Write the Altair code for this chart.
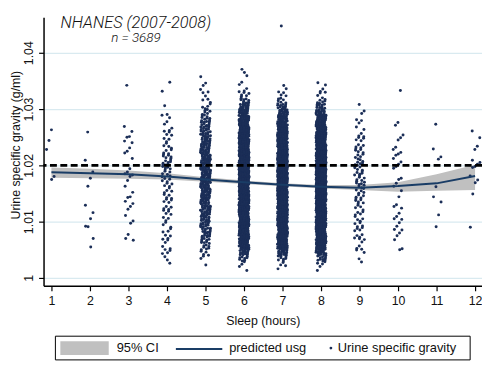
import altair as alt
import pandas as pd

# ---------------- data ----------------
hours = [1, 2, 3, 4, 5, 6, 7, 8, 9, 10, 11, 12]
pred_usg = [1.01877, 1.0186, 1.0184, 1.0180, 1.0175, 1.0170, 1.01655, 1.0162, 1.0160, 1.01632, 1.0168, 1.0181]
ci_lo = [1.0178, 1.0177, 1.0176, 1.0175, 1.0171, 1.0167, 1.0163, 1.0159, 1.0156, 1.0153, 1.0155, 1.0156]
ci_hi = [1.0196, 1.0194, 1.0191, 1.0186, 1.0179, 1.0173, 1.0168, 1.0165, 1.0165, 1.0170, 1.0184, 1.0201]

# sparse columns: individual readings
usg_h1 = [1.0263, 1.0244, 1.0228, 1.0180, 1.0175]
usg_h2 = [1.0259, 1.0209, 1.0188, 1.0177, 1.0163, 1.0129, 1.0116, 1.0105, 1.0091, 1.0092, 1.0070, 1.0055]
usg_h3 = [1.0342, 1.0269, 1.0260, 1.0251, 1.0250, 1.0243, 1.0240, 1.0231, 1.0225, 1.0222, 1.0212,
          1.0194, 1.0188, 1.0185, 1.0183, 1.0180, 1.0173, 1.0163, 1.0152, 1.0144, 1.0143, 1.0136,
          1.0132, 1.0127, 1.0122, 1.0111, 1.0101, 1.0097, 1.0077, 1.0070, 1.0067]
usg_h10 = [1.0333, 1.0276, 1.0271, 1.0254, 1.0249, 1.0245, 1.0232, 1.0228, 1.0223, 1.0220, 1.0218,
           1.0212, 1.0206, 1.0202, 1.0198, 1.0195, 1.0177, 1.0175, 1.0168, 1.0163, 1.0155, 1.0144,
           1.0130, 1.0127, 1.0124, 1.0115, 1.0109, 1.0105, 1.0104, 1.0098, 1.0092, 1.0086, 1.0085,
           1.0080, 1.0075, 1.0068, 1.0052, 1.0050]
usg_h11 = [1.0273, 1.0229, 1.0215, 1.0211, 1.0162, 1.0144, 1.0135, 1.0112, 1.0091]
usg_h12 = [1.0261, 1.0249, 1.0234, 1.0228, 1.0209, 1.0205, 1.0202, 1.0198, 1.0196, 1.0181, 1.0174,
           1.0169, 1.0149, 1.0090]

# dense columns: estimated number of points per 0.001 band, starting at 1.000
counts_h4 = [0, 0, 1, 2, 3, 3, 3, 3, 3, 3, 3, 4, 4, 4, 4, 4, 4, 5, 5, 6, 8, 6, 4, 4, 3, 3, 3, 2, 2, 1, 1, 0, 0, 1, 1]
counts_h5 = [0, 0, 1, 2, 4, 7, 9, 10, 11, 12, 13, 14, 15, 15, 16, 16, 17, 17, 18, 18, 18, 17, 16, 15, 14, 13,
             12, 10, 8, 6, 4, 3, 2, 2, 2, 1]
counts_h6 = [0, 1, 3, 8, 15, 22, 26, 28, 30, 32, 34, 36, 38, 40, 42, 43, 44, 45, 46, 46, 46, 45, 44, 42, 40,
             37, 34, 30, 25, 20, 14, 9, 5, 3, 2, 1, 1, 1]
counts_h7 = [0, 1, 3, 8, 16, 24, 29, 32, 34, 36, 38, 40, 42, 44, 46, 47, 48, 48, 48, 47, 46, 44, 42, 40, 37,
             34, 30, 26, 21, 16, 11, 6, 3, 2, 1, 0, 0, 0, 0, 0, 0, 0, 0, 0, 1]
counts_h8 = [0, 1, 4, 10, 18, 26, 31, 34, 36, 38, 40, 42, 44, 46, 48, 49, 50, 50, 50, 49, 48, 46, 44, 41, 38,
             35, 31, 27, 22, 16, 11, 6, 3, 2, 2]
counts_h9 = [0, 0, 1, 1, 2, 3, 3, 4, 4, 4, 4, 4, 4, 5, 5, 5, 6, 6, 6, 6, 6, 5, 5, 4, 4, 3, 2, 2, 1, 2, 1]

sparse = {1: usg_h1, 2: usg_h2, 3: usg_h3, 10: usg_h10, 11: usg_h11, 12: usg_h12}
dense = {4: counts_h4, 5: counts_h5, 6: counts_h6, 7: counts_h7, 8: counts_h8, 9: counts_h9}

# ---------------- build point table (deterministic strip jitter, R2 sequence) ----------------
A1, A2 = 0.7548776662, 0.5698402910
JW = 0.26
rows = []
n = 0
for h, vals in sparse.items():
    for v in vals:
        rows.append({"sleep": h, "usg": v, "jit": ((0.5 + n * A1) % 1.0 - 0.5) * JW})
        n += 1
for h, cnts in dense.items():
    for i, c in enumerate(cnts):
        for k in range(c):
            fy = (0.5 + n * A2) % 1.0
            rows.append({"sleep": h, "usg": 1 + (i + fy) * 0.001,
                         "jit": ((0.5 + n * A1) % 1.0 - 0.5) * JW})
            n += 1

pts = pd.DataFrame(rows)
fit = pd.DataFrame({"sleep": hours, "pred": pred_usg, "lo": ci_lo, "hi": ci_hi})
ref = pd.DataFrame({"ref": [1.02]})
one = pd.DataFrame({"a": [0]})

NAVY_PT = "#1b2e57"
NAVY_LN = "#1a3d66"
BAND = "#c0c0c0"

xsc = alt.Scale(domain=[0.795, 12.18], nice=False, zero=False)
ysc = alt.Scale(domain=[0.9986, 1.0463], nice=False, zero=False)

xaxis = alt.Axis(values=hours, format="d", title="Sleep (hours)", grid=False,
                 domainColor="black", domainWidth=1.5, tickColor="black", tickWidth=1.2,
                 tickSize=5, labelFontSize=12.5, labelPadding=4, labelColor="#111111",
                 titleFontSize=12.5, titleFontWeight="normal", titlePadding=8, titleColor="#111111")
yaxis = alt.Axis(values=[1, 1.01, 1.02, 1.03, 1.04],
                 labelExpr="datum.value == 1 ? '1' : format(datum.value, '.2f')",
                 title="Urine specific gravity (g/ml)", grid=True, gridColor="#d9eaf0", gridWidth=1.3,
                 domainColor="black", domainWidth=1.5, tickColor="black", tickWidth=1.2, tickSize=5,
                 labelAngle=-90, labelAlign="center", labelBaseline="bottom", labelPadding=3,
                 labelFontSize=12.5, labelColor="#111111",
                 titleFontSize=12.5, titleFontWeight="normal", titleColor="#111111",
                 titleAngle=270, titleAlign="center", titleBaseline="middle", titleX=-28, titleY=129)

band = alt.Chart(fit).mark_area(color=BAND, opacity=1).encode(
    x=alt.X("sleep:Q", scale=xsc, axis=xaxis),
    y=alt.Y("lo:Q", scale=ysc, axis=yaxis),
    y2="hi:Q",
)

points = alt.Chart(pts).transform_calculate(xpos="datum.sleep + datum.jit").mark_circle(
    size=9, color=NAVY_PT, opacity=1
).encode(
    x=alt.X("xpos:Q", scale=xsc),
    y=alt.Y("usg:Q", scale=ysc),
)

line = alt.Chart(fit).mark_line(color=NAVY_LN, strokeWidth=2).encode(
    x=alt.X("sleep:Q", scale=xsc),
    y=alt.Y("pred:Q", scale=ysc),
)

dash = alt.Chart(ref).mark_rule(color="black", strokeWidth=2.8, strokeDash=[7, 3.5]).encode(
    y=alt.Y("ref:Q", scale=ysc),
)

# titles inside the plot
t1 = alt.Chart(one).mark_text(text="NHANES (2007-2008)", font="Roboto", fontSize=16.5,
                              fontStyle="italic", fontWeight=300, align="center", baseline="alphabetic",
                              color="#111111").encode(x=alt.value(93.5), y=alt.value(10.5))
t2 = alt.Chart(one).mark_text(text="n = 3689", font="Roboto", fontSize=13.5,
                              fontStyle="italic", fontWeight=300, align="center", baseline="alphabetic",
                              color="#111111").encode(x=alt.value(93.5), y=alt.value(25.5))

# legend box
lg_box = alt.Chart(one).mark_rect(fill="white", stroke="black", strokeWidth=1).encode(
    x=alt.value(12), x2=alt.value(432), y=alt.value(323), y2=alt.value(347))
lg_band = alt.Chart(one).mark_rect(fill=BAND).encode(
    x=alt.value(17), x2=alt.value(66), y=alt.value(328), y2=alt.value(342))
lg_line = alt.Chart(one).mark_rule(color=NAVY_LN, strokeWidth=2).encode(
    x=alt.value(134), x2=alt.value(181), y=alt.value(336))
lg_dot = alt.Chart(one).mark_circle(size=8, color=NAVY_PT, opacity=1).encode(
    x=alt.value(291), y=alt.value(335))
lg_txt = alt.Chart(pd.DataFrame({"lab": ["95% CI", "predicted usg", "Urine specific gravity"],
                                 "px": [74, 188, 298]})).mark_text(
    align="left", baseline="middle", fontSize=13, color="#111111").encode(
    x=alt.X("px:Q", scale=None), y=alt.value(335.5), text="lab:N")

chart = alt.layer(band, points, line, dash, t1, t2, lg_box, lg_band, lg_line, lg_dot, lg_txt).properties(
    width=444, height=272,
    autosize=alt.AutoSizeParams(type="none"),
    padding={"left": 36, "top": 7, "right": 0, "bottom": 93},
    background="white",
).configure(font="Liberation Sans").configure_view(stroke="transparent")

chart.save("out.html", embed_options={"renderer": "svg", "actions": False})
